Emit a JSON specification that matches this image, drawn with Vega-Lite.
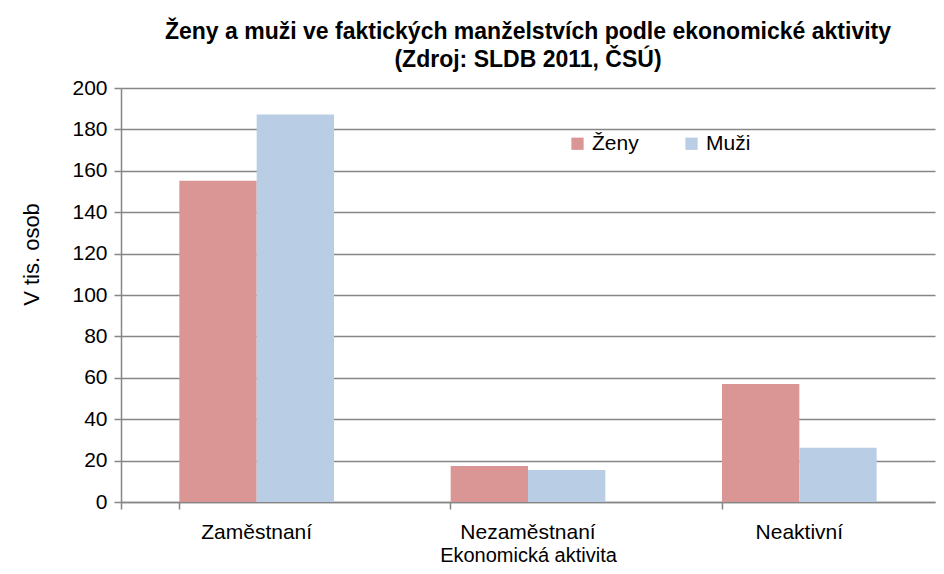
{
  "$schema": "https://vega.github.io/schema/vega-lite/v6.json",
  "width": 814,
  "height": 414,
  "autosize": {"type": "none"},
  "padding": {"left": 121, "top": 88, "right": 9, "bottom": 72},
  "background": "white",
  "config": {
    "font": "Liberation Sans",
    "view": {"stroke": null}
  },
  "title": {
    "text": ["Ženy a muži ve faktických manželstvích podle ekonomické aktivity", "(Zdroj: SLDB 2011, ČSÚ)"],
    "anchor": "middle",
    "fontSize": 23,
    "fontWeight": "bold",
    "lineHeight": 28,
    "offset": 5,
    "color": "black"
  },
  "data": {
    "values": [
      {"aktivita": "Zaměstnaní", "pohlavi": "Ženy", "hodnota": 155.2},
      {"aktivita": "Zaměstnaní", "pohlavi": "Muži", "hodnota": 187.2},
      {"aktivita": "Nezaměstnaní", "pohlavi": "Ženy", "hodnota": 17.4},
      {"aktivita": "Nezaměstnaní", "pohlavi": "Muži", "hodnota": 15.4},
      {"aktivita": "Neaktivní", "pohlavi": "Ženy", "hodnota": 57.0},
      {"aktivita": "Neaktivní", "pohlavi": "Muži", "hodnota": 26.2}
    ]
  },
  "mark": {"type": "bar"},
  "encoding": {
    "x": {
      "field": "aktivita",
      "type": "nominal",
      "sort": ["Zaměstnaní", "Nezaměstnaní", "Neaktivní"],
      "scale": {"paddingInner": 0.43, "paddingOuter": 0.215},
      "axis": {
        "title": "Ekonomická aktivita",
        "titleFontSize": 20,
        "titleFontWeight": "normal",
        "titleColor": "black",
        "titlePadding": 3,
        "labelFontSize": 21,
        "labelColor": "black",
        "labelAngle": 0,
        "labelPadding": 12,
        "bandPosition": 0,
        "tickExtra": true,
        "tickSize": 7,
        "tickColor": "#868686",
        "domainColor": "#868686",
        "domainWidth": 1.5,
        "tickWidth": 1.5
      }
    },
    "xOffset": {"field": "pohlavi", "type": "nominal", "sort": ["Ženy", "Muži"]},
    "y": {
      "field": "hodnota",
      "type": "quantitative",
      "scale": {"domain": [0, 200], "nice": false},
      "axis": {
        "title": "V tis. osob",
        "titleFontSize": 22,
        "titleFontWeight": "normal",
        "titleColor": "black",
        "titlePadding": 28,
        "titleY": 166,
        "values": [0, 20, 40, 60, 80, 100, 120, 140, 160, 180, 200],
        "labelFontSize": 21,
        "labelColor": "black",
        "labelPadding": 7,
        "tickSize": 7,
        "tickColor": "#868686",
        "tickWidth": 1.5,
        "domainColor": "#868686",
        "domainWidth": 1.5,
        "gridColor": "#868686",
        "gridWidth": 1.5
      }
    },
    "color": {
      "field": "pohlavi",
      "type": "nominal",
      "scale": {"domain": ["Ženy", "Muži"], "range": ["#D99694", "#B9CDE5"]},
      "legend": {
        "title": null,
        "orient": "none",
        "legendX": 446,
        "legendY": 45,
        "direction": "horizontal",
        "symbolType": "square",
        "symbolSize": 150,
        "symbolStrokeWidth": 0,
        "labelFontSize": 21,
        "labelColor": "black",
        "columnPadding": 42,
        "labelOffset": 4
      }
    }
  }
}
